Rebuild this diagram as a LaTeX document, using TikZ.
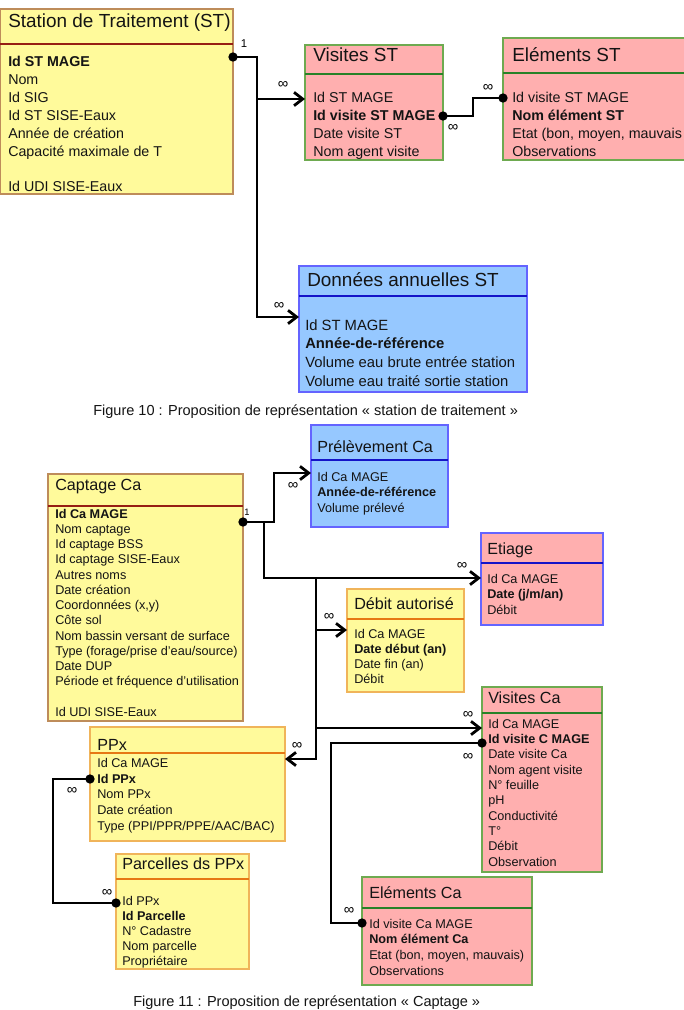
\documentclass[tikz,border=0pt]{standalone}
\usepackage{fontspec}
\setmainfont{Liberation Sans}
\usetikzlibrary{arrows.meta}
\definecolor{yfill}{RGB}{255,250,155}
\definecolor{ybrdA}{RGB}{190,140,90}
\definecolor{ybrdB}{RGB}{240,180,90}
\definecolor{yhdrA}{RGB}{150,30,20}
\definecolor{yhdrB}{RGB}{230,120,20}
\definecolor{pfill}{RGB}{255,175,175}
\definecolor{pbrd}{RGB}{110,170,80}
\definecolor{phdr}{RGB}{40,130,40}
\definecolor{bfill}{RGB}{150,200,255}
\definecolor{bbrd}{RGB}{100,100,255}
\definecolor{bhdr}{RGB}{20,20,200}
\definecolor{txtc}{RGB}{20,20,20}
\tikzset{
  erbox/.style={draw, line width=0.9pt, inner sep=0pt, outer sep=0pt, anchor=north west},
  yboxA/.style={erbox, fill=yfill, draw=ybrdA},
  yboxB/.style={erbox, fill=yfill, draw=ybrdB},
  pbox/.style={erbox, fill=pfill, draw=pbrd},
  bbox/.style={erbox, fill=bfill, draw=bbrd},
  ebox/.style={erbox, fill=pfill, draw=bbrd},
  hdr/.style={line width=1.3pt},
  txt/.style={inner sep=0pt, anchor=base west, text=txtc},
  ttlA/.style={txt, font=\fontsize{14.2}{17}\selectfont},
  bodA/.style={txt, font=\fontsize{10.7}{13}\selectfont},
  bodD/.style={txt, font=\fontsize{11.1}{13}\selectfont},
  ttlB/.style={txt, font=\fontsize{12.1}{14}\selectfont},
  bodB/.style={txt, font=\fontsize{9.5}{11}\selectfont},
  figcap/.style={txt, font=\fontsize{10.9}{13}\selectfont},
  inflab/.style={inner sep=0pt, font=\fontsize{11}{12}\selectfont},
  onelab/.style={inner sep=0pt, font=\fontsize{8.5}{10}\selectfont},
  conn/.style={line width=2.1pt, line join=miter},
  arr/.style={conn, -{Straight Barb[length=6.5pt,width=10pt]}},
}
\newcommand\erbx[6]{\node[#6, minimum width={(#4-#2)*0.75pt}, minimum height={(#5-#3)*0.75pt}] (#1) at (#2,#3) {};}
\newcommand\erhdr[3]{\draw[hdr,#3] (#1.west |- 0,#2) -- (#1.east |- 0,#2);}
\newcommand\erlines[6]{\foreach \t [count=\i from 0] in {#6} \node[#5] (#1-\i) at (#2,{#3+\i*#4}) {\t};}
\newcommand\erdot[1]{\fill (#1) circle[radius=3.5pt];}
\begin{document}
\begin{tikzpicture}[x=0.75pt,y=-0.75pt]
\useasboundingbox (0,0) rectangle (684,1010);
\fill[white] (0,0) rectangle (684,1010);

% ---------- Station de Traitement ----------
\erbx{st}{0}{9}{233}{194}{yboxA}
\erhdr{st}{44}{yhdrA}
\node[ttlA] (st-t) at (8,27.2) {Station de Traitement (ST)};
\erlines{st}{8}{66.9}{17.86}{bodA}{\textbf{Id ST MAGE}, Nom, Id SIG, Id ST SISE-Eaux, Année de création, Capacité maximale de T, {}, Id UDI SISE-Eaux}

\erbx{vst}{305}{45}{443}{160}{pbox}
\erhdr{vst}{74}{phdr}
\node[ttlA] (vst-t) at (313,61.5) {Visites ST};
\erlines{vst}{313}{102.9}{17.7}{bodA}{Id ST MAGE, \textbf{Id visite ST MAGE}, Date visite ST, Nom agent visite}

\erbx{est}{503}{38}{700}{160}{pbox}
\erhdr{est}{73}{phdr}
\node[ttlA] (est-t) at (512,61.5) {Eléments ST};
\erlines{est}{512}{102.9}{17.7}{bodA}{Id visite ST MAGE, \textbf{Nom élément ST}, {Etat (bon, moyen, mauvais}, Observations}

\erbx{da}{299}{266}{527}{392}{bbox}
\erhdr{da}{296}{bhdr}
\node[ttlA] (da-t) at (307,286.5) {Données annuelles ST};
\erlines{da}{305}{330.1}{18.67}{bodD}{Id ST MAGE, \textbf{Année-de-référence}, Volume eau brute entrée station, Volume eau traité sortie station}

\coordinate (ja) at (257,57);
\coordinate (jb) at (257,99);
\coordinate (jc) at (257,317);
\draw[arr] (st.east |- ja) -- (ja) -- (jc) -- (da.west |- jc);
\draw[arr] (jb) -- (vst.west |- jb);
\erdot{st.east |- ja}
\coordinate (jd) at (473,116);
\coordinate (je) at (473,98);
\draw[conn] (vst.east |- jd) -- (jd) -- (je) -- (est.west |- je);
\erdot{vst.east |- jd}
\erdot{est.west |- je}
\node[onelab] (one1) at (244,44) {1};
\node[inflab] (i1) at (283,85) {∞};
\node[inflab] (i2) at (279,306) {∞};
\node[inflab] (i3) at (488,88) {∞};
\node[inflab] (i4) at (453,128) {∞};

\node[figcap] (fig10) at (93,415) {Figure 10 : Proposition de représentation « station de traitement »};

% ---------- Captage ----------
\erbx{pre}{311}{425}{448}{527}{bbox}
\erhdr{pre}{460}{bhdr}
\node[ttlB] (pre-t) at (317,452.5) {Prélèvement Ca};
\erlines{pre}{317}{481.3}{15.5}{bodB}{Id Ca MAGE, \textbf{Année-de-référence}, Volume prélevé}

\erbx{capt}{48}{474}{243}{721}{yboxA}
\erhdr{capt}{506}{yhdrA}
\node[ttlB] (capt-t) at (55,490.5) {Captage Ca};
\erlines{capt}{55}{518.3}{15.23}{bodB}{\textbf{Id Ca MAGE}, Nom captage, Id captage BSS, Id captage SISE-Eaux, Autres noms, Date création, {Coordonnées (x,y)}, Côte sol, Nom bassin versant de surface, Type (forage/prise d’eau/source), Date DUP, Période et fréquence d’utilisation, {}, Id UDI SISE-Eaux}

\erbx{eti}{481}{533}{603}{625}{ebox}
\erhdr{eti}{563}{bhdr}
\node[ttlB] (eti-t) at (487,554.5) {Etiage};
\erlines{eti}{487}{583.3}{15.5}{bodB}{Id Ca MAGE, \textbf{Date (j/m/an)}, Débit}

\erbx{deb}{347}{589}{464}{692}{yboxB}
\erhdr{deb}{619}{yhdrB}
\node[ttlB] (deb-t) at (354,609.5) {Débit autorisé};
\erlines{deb}{354}{638.3}{15}{bodB}{Id Ca MAGE, \textbf{Date début (an)}, Date fin (an), Débit}

\erbx{vca}{482}{687}{602}{872}{pbox}
\erhdr{vca}{713}{phdr}
\node[ttlB] (vca-t) at (488,703.5) {Visites Ca};
\erlines{vca}{488}{728.3}{15.33}{bodB}{Id Ca MAGE, \textbf{Id visite C MAGE}, Date visite Ca, Nom agent visite, N° feuille, pH, Conductivité, T°, Débit, Observation}

\erbx{ppx}{90}{727}{285}{841}{yboxB}
\erhdr{ppx}{753}{yhdrB}
\node[ttlB] (ppx-t) at (97,750.5) {PPx};
\erlines{ppx}{97}{767.3}{15.75}{bodB}{Id Ca MAGE, \textbf{Id PPx}, Nom PPx, Date création, Type (PPI/PPR/PPE/AAC/BAC)}

\erbx{par}{116}{854}{249}{969}{yboxB}
\erhdr{par}{879}{yhdrB}
\node[ttlB] (par-t) at (122,869.5) {Parcelles ds PPx};
\erlines{par}{122}{905.3}{15}{bodB}{Id PPx, \textbf{Id Parcelle}, N° Cadastre, Nom parcelle, Propriétaire}

\erbx{eca}{362}{877}{532}{985}{pbox}
\erhdr{eca}{908}{phdr}
\node[ttlB] (eca-t) at (369,898.5) {Eléments Ca};
\erlines{eca}{369}{928.3}{15.67}{bodB}{Id visite Ca MAGE, \textbf{Nom élément Ca}, {Etat (bon, moyen, mauvais)}, Observations}

\coordinate (k1) at (274,522);
\coordinate (k2) at (274,473);
\coordinate (k3) at (264,522);
\coordinate (k4) at (264,578);
\coordinate (k5) at (316,578);
\coordinate (k6) at (316,630);
\coordinate (k7) at (316,728);
\coordinate (k8) at (316,759);
\draw[arr] (capt.east |- k1) -- (k1) -- (k2) -- (pre.west |- k2);
\draw[arr] (k3) -- (k4) -- (eti.west |- k4);
\draw[arr] (k5) -- (k6) -- (deb.west |- k6);
\draw[arr] (k6) -- (k7) -- (vca.west |- k7);
\draw[arr] (k7) -- (k8) -- (ppx.east |- k8);
\erdot{capt.east |- k1}
\coordinate (m1) at (331,743);
\coordinate (m2) at (331,923);
\draw[conn] (vca.west |- m1) -- (m1) -- (m2) -- (eca.west |- m2);
\erdot{vca.west |- m1}
\erdot{eca.west |- m2}
\coordinate (n1) at (53,779);
\coordinate (n2) at (53,903);
\draw[conn] (ppx.west |- n1) -- (n1) -- (n2) -- (par.west |- n2);
\erdot{ppx.west |- n1}
\erdot{par.west |- n2}

\node[onelab, font=\fontsize{7}{8}\selectfont] (one2) at (247,512) {1};
\node[inflab] (i5) at (293,486) {∞};
\node[inflab] (i6) at (462,566) {∞};
\node[inflab] (i7) at (329,617) {∞};
\node[inflab] (i8) at (468,715) {∞};
\node[inflab] (i9) at (297,746) {∞};
\node[inflab] (i10) at (468,757) {∞};
\node[inflab] (i11) at (349,911) {∞};
\node[inflab] (i12) at (72,791) {∞};
\node[inflab] (i13) at (107,893) {∞};

\node[figcap] (fig11) at (133,1006.5) {Figure 11 : Proposition de représentation « Captage »};
\end{tikzpicture}
\end{document}
